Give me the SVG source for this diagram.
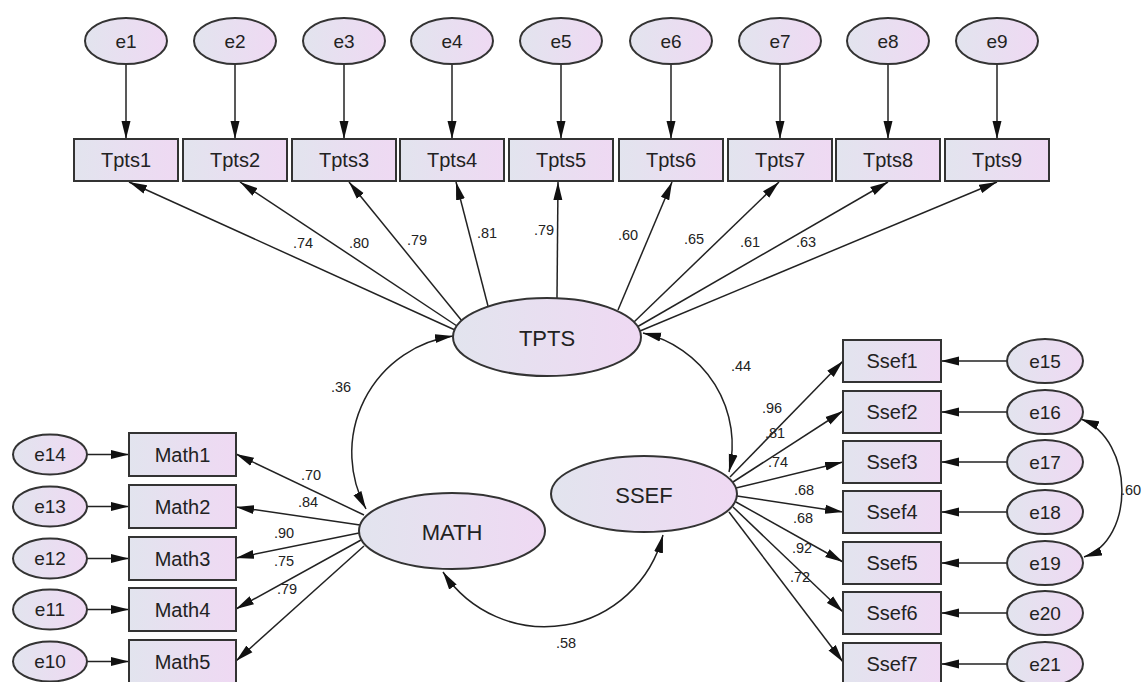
<svg xmlns="http://www.w3.org/2000/svg" width="1142" height="682" viewBox="0 0 1142 682">
<defs>
<linearGradient id="g" x1="0" y1="0" x2="1" y2="0">
<stop offset="0" stop-color="#e2e4ee"/>
<stop offset="1" stop-color="#efd9f3"/>
</linearGradient>
<marker id="ah" markerUnits="userSpaceOnUse" markerWidth="18" markerHeight="10" refX="18" refY="5" orient="auto-start-reverse" viewBox="0 0 18 10">
<path d="M0,0.5 L18,5 L0,9.5 z" fill="#111"/>
</marker>
<style>
.n{fill:url(#g);stroke:#333;stroke-width:2}
.t{font-family:"Liberation Sans",Arial,sans-serif;font-size:20px;fill:#222;text-anchor:middle;dominant-baseline:central}
.te{font-family:"Liberation Sans",Arial,sans-serif;font-size:19px;fill:#222;text-anchor:middle;dominant-baseline:central}
.tl{font-family:"Liberation Sans",Arial,sans-serif;font-size:22px;fill:#222;text-anchor:middle;dominant-baseline:central}
.lab{font-family:"Liberation Sans",Arial,sans-serif;font-size:14.5px;fill:#222;text-anchor:middle;dominant-baseline:central}
.c{fill:none;stroke:#222;stroke-width:1.5;marker-end:url(#ah)}
.cc{fill:none;stroke:#222;stroke-width:1.5;marker-end:url(#ah);marker-start:url(#ah)}
</style>
</defs>
<rect width="1142" height="682" fill="#fff"/>

<g id="connectors">
<line class="c" x1="126" y1="64" x2="126" y2="139"/>
<line class="c" x1="235" y1="64" x2="235" y2="139"/>
<line class="c" x1="344" y1="64" x2="344" y2="139"/>
<line class="c" x1="452" y1="64" x2="452" y2="139"/>
<line class="c" x1="561" y1="64" x2="561" y2="139"/>
<line class="c" x1="671" y1="64" x2="671" y2="139"/>
<line class="c" x1="780" y1="64" x2="780" y2="139"/>
<line class="c" x1="888" y1="64" x2="888" y2="139"/>
<line class="c" x1="997" y1="64" x2="997" y2="139"/>
<line class="c" x1="455" y1="330" x2="129" y2="182"/>
<line class="c" x1="457" y1="326" x2="240" y2="182"/>
<line class="c" x1="462" y1="321" x2="349" y2="182"/>
<line class="c" x1="488" y1="306" x2="456" y2="182"/>
<line class="c" x1="557" y1="298" x2="558" y2="182"/>
<line class="c" x1="618" y1="310" x2="672" y2="182"/>
<line class="c" x1="634" y1="322" x2="779" y2="182"/>
<line class="c" x1="637" y1="327" x2="888" y2="182"/>
<line class="c" x1="640" y1="331" x2="997" y2="182"/>
<line class="c" x1="87" y1="454.5" x2="129" y2="454.5"/>
<line class="c" x1="87" y1="506.5" x2="129" y2="506.5"/>
<line class="c" x1="87" y1="558.5" x2="129" y2="558.5"/>
<line class="c" x1="87" y1="609.5" x2="129" y2="609.5"/>
<line class="c" x1="87" y1="661.5" x2="129" y2="661.5"/>
<line class="c" x1="364" y1="515" x2="236" y2="454"/>
<line class="c" x1="360" y1="525" x2="236" y2="507"/>
<line class="c" x1="359" y1="533" x2="236" y2="558"/>
<line class="c" x1="361" y1="540" x2="236" y2="609"/>
<line class="c" x1="364" y1="546" x2="236" y2="661"/>
<line class="c" x1="1007" y1="361" x2="941" y2="361"/>
<line class="c" x1="1007" y1="412" x2="941" y2="412"/>
<line class="c" x1="1007" y1="462" x2="941" y2="462"/>
<line class="c" x1="1007" y1="512" x2="941" y2="512"/>
<line class="c" x1="1007" y1="563" x2="941" y2="563"/>
<line class="c" x1="1007" y1="613" x2="941" y2="613"/>
<line class="c" x1="1007" y1="664" x2="941" y2="664"/>
<line class="c" x1="730" y1="477" x2="843" y2="361"/>
<line class="c" x1="733" y1="482" x2="843" y2="411"/>
<line class="c" x1="736" y1="488" x2="843" y2="462"/>
<line class="c" x1="737" y1="496" x2="843" y2="512"/>
<line class="c" x1="736" y1="502" x2="843" y2="562"/>
<line class="c" x1="733" y1="507" x2="843" y2="612"/>
<line class="c" x1="729" y1="512" x2="843" y2="662"/>
<path class="cc" d="M453,336 A118,118 0 0 0 366,509"/>
<path class="cc" d="M643,333 A115,115 0 0 1 729,472"/>
<path class="cc" d="M443,572 A122,122 0 0 0 663,535"/>
<path class="cc" d="M1081,419 C1135,440 1135,540 1084,557"/>
</g>

<g id="labels">
<text class="lab" x="303" y="243">.74</text>
<text class="lab" x="359" y="243">.80</text>
<text class="lab" x="417" y="240">.79</text>
<text class="lab" x="487" y="233">.81</text>
<text class="lab" x="544" y="230">.79</text>
<text class="lab" x="628" y="235">.60</text>
<text class="lab" x="694" y="239">.65</text>
<text class="lab" x="750" y="242">.61</text>
<text class="lab" x="806" y="242">.63</text>
<text class="lab" x="311" y="475">.70</text>
<text class="lab" x="308" y="502">.84</text>
<text class="lab" x="284" y="533">.90</text>
<text class="lab" x="284" y="561">.75</text>
<text class="lab" x="287" y="589">.79</text>
<text class="lab" x="772" y="408">.96</text>
<text class="lab" x="775" y="433">.81</text>
<text class="lab" x="778" y="462">.74</text>
<text class="lab" x="804" y="490">.68</text>
<text class="lab" x="803" y="518">.68</text>
<text class="lab" x="802" y="548">.92</text>
<text class="lab" x="800" y="577">.72</text>
<text class="lab" x="341" y="387">.36</text>
<text class="lab" x="741" y="366">.44</text>
<text class="lab" x="566" y="643">.58</text>
<text class="lab" x="1121" y="490" style="text-anchor:start">.60</text>
</g>

<g id="e1"><ellipse class="n" cx="126" cy="41" rx="41" ry="23"/><text class="te" x="126" y="41">e1</text></g>
<g id="e2"><ellipse class="n" cx="235" cy="41" rx="41" ry="23"/><text class="te" x="235" y="41">e2</text></g>
<g id="e3"><ellipse class="n" cx="344" cy="41" rx="41" ry="23"/><text class="te" x="344" y="41">e3</text></g>
<g id="e4"><ellipse class="n" cx="452" cy="41" rx="41" ry="23"/><text class="te" x="452" y="41">e4</text></g>
<g id="e5"><ellipse class="n" cx="561" cy="41" rx="41" ry="23"/><text class="te" x="561" y="41">e5</text></g>
<g id="e6"><ellipse class="n" cx="671" cy="41" rx="41" ry="23"/><text class="te" x="671" y="41">e6</text></g>
<g id="e7"><ellipse class="n" cx="780" cy="41" rx="41" ry="23"/><text class="te" x="780" y="41">e7</text></g>
<g id="e8"><ellipse class="n" cx="888" cy="41" rx="41" ry="23"/><text class="te" x="888" y="41">e8</text></g>
<g id="e9"><ellipse class="n" cx="997" cy="41" rx="41" ry="23"/><text class="te" x="997" y="41">e9</text></g>

<g id="Tpts1"><rect class="n" x="74" y="139" width="104" height="42"/><text class="t" x="126" y="160">Tpts1</text></g>
<g id="Tpts2"><rect class="n" x="183" y="139" width="104" height="42"/><text class="t" x="235" y="160">Tpts2</text></g>
<g id="Tpts3"><rect class="n" x="292" y="139" width="104" height="42"/><text class="t" x="344" y="160">Tpts3</text></g>
<g id="Tpts4"><rect class="n" x="400" y="139" width="104" height="42"/><text class="t" x="452" y="160">Tpts4</text></g>
<g id="Tpts5"><rect class="n" x="509" y="139" width="104" height="42"/><text class="t" x="561" y="160">Tpts5</text></g>
<g id="Tpts6"><rect class="n" x="619" y="139" width="104" height="42"/><text class="t" x="671" y="160">Tpts6</text></g>
<g id="Tpts7"><rect class="n" x="728" y="139" width="104" height="42"/><text class="t" x="780" y="160">Tpts7</text></g>
<g id="Tpts8"><rect class="n" x="836" y="139" width="104" height="42"/><text class="t" x="888" y="160">Tpts8</text></g>
<g id="Tpts9"><rect class="n" x="945" y="139" width="104" height="42"/><text class="t" x="997" y="160">Tpts9</text></g>

<g id="TPTS"><ellipse class="n" cx="547" cy="337" rx="94" ry="39"/><text class="tl" x="547" y="338">TPTS</text></g>
<g id="MATH"><ellipse class="n" cx="452" cy="531" rx="93" ry="38"/><text class="tl" x="452" y="532">MATH</text></g>
<g id="SSEF"><ellipse class="n" cx="644" cy="494" rx="93" ry="38"/><text class="tl" x="644" y="495">SSEF</text></g>

<g id="Math1"><rect class="n" x="129" y="433" width="107" height="43"/><text class="t" x="182.5" y="454.5">Math1</text></g>
<g id="Math2"><rect class="n" x="129" y="485" width="107" height="43"/><text class="t" x="182.5" y="506.5">Math2</text></g>
<g id="Math3"><rect class="n" x="129" y="537" width="107" height="43"/><text class="t" x="182.5" y="558.5">Math3</text></g>
<g id="Math4"><rect class="n" x="129" y="588" width="107" height="43"/><text class="t" x="182.5" y="609.5">Math4</text></g>
<g id="Math5"><rect class="n" x="129" y="640" width="107" height="43"/><text class="t" x="182.5" y="661.5">Math5</text></g>

<g id="e14"><ellipse class="n" cx="50" cy="454.5" rx="37" ry="20"/><text class="te" x="50" y="454.5">e14</text></g>
<g id="e13"><ellipse class="n" cx="50" cy="506.5" rx="37" ry="20"/><text class="te" x="50" y="506.5">e13</text></g>
<g id="e12"><ellipse class="n" cx="50" cy="558.5" rx="37" ry="20"/><text class="te" x="50" y="558.5">e12</text></g>
<g id="e11"><ellipse class="n" cx="50" cy="609.5" rx="37" ry="20"/><text class="te" x="50" y="609.5">e11</text></g>
<g id="e10"><ellipse class="n" cx="50" cy="661.5" rx="37" ry="20"/><text class="te" x="50" y="661.5">e10</text></g>

<g id="Ssef1"><rect class="n" x="843" y="340" width="98" height="42"/><text class="t" x="892" y="361">Ssef1</text></g>
<g id="Ssef2"><rect class="n" x="843" y="391" width="98" height="42"/><text class="t" x="892" y="412">Ssef2</text></g>
<g id="Ssef3"><rect class="n" x="843" y="441" width="98" height="42"/><text class="t" x="892" y="462">Ssef3</text></g>
<g id="Ssef4"><rect class="n" x="843" y="491" width="98" height="42"/><text class="t" x="892" y="512">Ssef4</text></g>
<g id="Ssef5"><rect class="n" x="843" y="542" width="98" height="42"/><text class="t" x="892" y="563">Ssef5</text></g>
<g id="Ssef6"><rect class="n" x="843" y="592" width="98" height="42"/><text class="t" x="892" y="613">Ssef6</text></g>
<g id="Ssef7"><rect class="n" x="843" y="643" width="98" height="42"/><text class="t" x="892" y="664">Ssef7</text></g>

<g id="e15"><ellipse class="n" cx="1045" cy="361" rx="38" ry="22"/><text class="te" x="1045" y="361">e15</text></g>
<g id="e16"><ellipse class="n" cx="1045" cy="412" rx="38" ry="22"/><text class="te" x="1045" y="412">e16</text></g>
<g id="e17"><ellipse class="n" cx="1045" cy="462" rx="38" ry="22"/><text class="te" x="1045" y="462">e17</text></g>
<g id="e18"><ellipse class="n" cx="1045" cy="512" rx="38" ry="22"/><text class="te" x="1045" y="512">e18</text></g>
<g id="e19"><ellipse class="n" cx="1045" cy="563" rx="38" ry="22"/><text class="te" x="1045" y="563">e19</text></g>
<g id="e20"><ellipse class="n" cx="1045" cy="613" rx="38" ry="22"/><text class="te" x="1045" y="613">e20</text></g>
<g id="e21"><ellipse class="n" cx="1045" cy="664" rx="38" ry="22"/><text class="te" x="1045" y="664">e21</text></g>
</svg>
